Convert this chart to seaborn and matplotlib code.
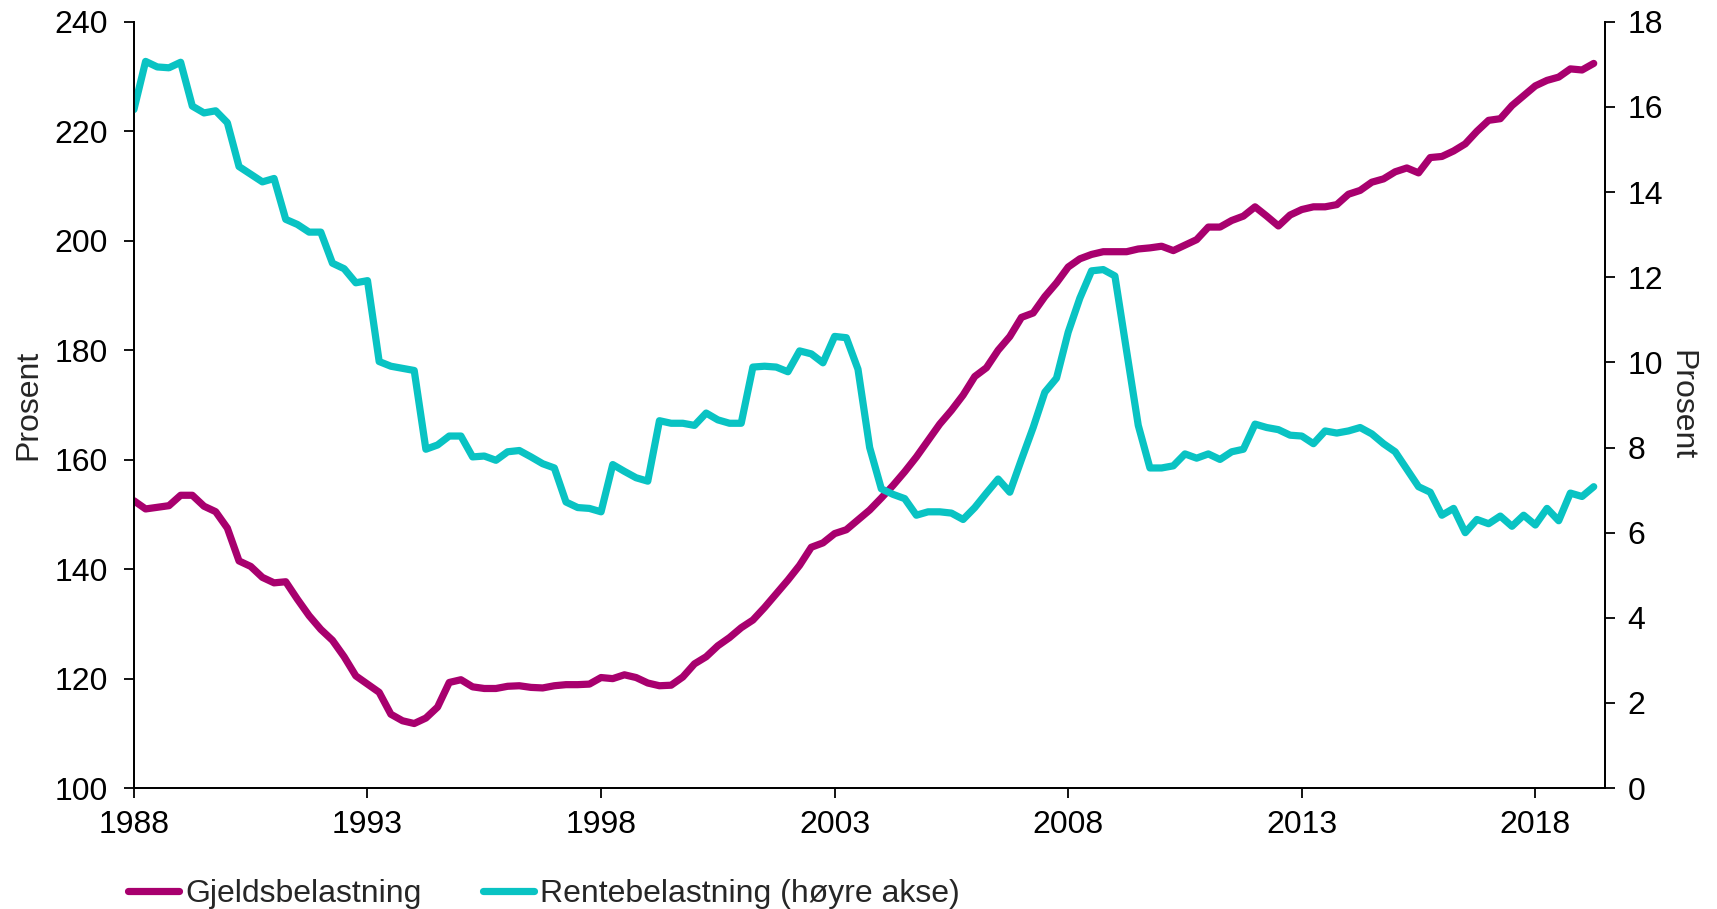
import numpy as np
import pandas as pd
import matplotlib
matplotlib.use("Agg")
import matplotlib.pyplot as plt
import seaborn as sns

# =========================================================
# Data (kvartalsvis, 1988K1 - 2019K2)
# =========================================================

gjeld = [
    152.5, 151.0, 151.3, 151.6, 153.5, 153.5, 151.5, 150.5,
    147.5, 141.5, 140.5, 138.5, 137.5, 137.7, 134.5, 131.5,
    129.0, 127.0, 124.0, 120.5, 119.0, 117.5, 113.5, 112.3,
    111.8, 112.8, 114.8, 119.3, 119.8, 118.5, 118.2, 118.2,
    118.6, 118.7, 118.4, 118.3, 118.7, 118.9, 118.9, 119.0,
    120.2, 120.0, 120.7, 120.2, 119.2, 118.7, 118.8, 120.3,
    122.7, 124.0, 126.0, 127.5, 129.3, 130.7, 133.0, 135.5,
    138.0, 140.7, 144.0, 144.8, 146.5, 147.2, 149.0, 150.8,
    153.0, 155.3, 157.8, 160.5, 163.5, 166.5, 169.0, 171.8,
    175.2, 176.8, 180.0, 182.5, 186.0, 186.8, 189.8, 192.3,
    195.2, 196.7, 197.5, 198.0, 198.0, 198.0, 198.5, 198.7,
    199.0, 198.2, 199.2, 200.2, 202.5, 202.5, 203.7, 204.5,
    206.2, 204.5, 202.7, 204.7, 205.7, 206.2, 206.2, 206.6,
    208.5, 209.2, 210.7, 211.3, 212.6, 213.3, 212.4, 215.2,
    215.4, 216.4, 217.7, 220.0, 222.0, 222.3, 224.7, 226.5,
    228.3, 229.3, 229.9, 231.4, 231.2, 232.4,
]

rente = [
    15.94, 17.07, 16.94, 16.92, 17.05, 16.02, 15.86, 15.91,
    15.63, 14.60, 14.42, 14.24, 14.32, 13.36, 13.24, 13.06,
    13.06, 12.33, 12.20, 11.87, 11.92, 10.02, 9.91, 9.86,
    9.81, 7.96, 8.06, 8.27, 8.27, 7.78, 7.80, 7.70,
    7.90, 7.93, 7.78, 7.62, 7.52, 6.72, 6.59, 6.57,
    6.49, 7.60, 7.44, 7.29, 7.21, 8.63, 8.57, 8.57,
    8.52, 8.81, 8.65, 8.57, 8.57, 9.89, 9.91, 9.89,
    9.78, 10.27, 10.20, 9.99, 10.61, 10.58, 9.84, 8.00,
    7.03, 6.90, 6.80, 6.41, 6.49, 6.49, 6.46, 6.31,
    6.59, 6.93, 7.26, 6.95, 7.72, 8.47, 9.30, 9.63,
    10.71, 11.51, 12.15, 12.18, 12.03, 10.27, 8.52, 7.52,
    7.52, 7.57, 7.85, 7.75, 7.85, 7.72, 7.90, 7.96,
    8.55, 8.47, 8.42, 8.29, 8.27, 8.09, 8.39, 8.34,
    8.39, 8.47, 8.32, 8.09, 7.90, 7.49, 7.08, 6.95,
    6.41, 6.57, 6.00, 6.31, 6.21, 6.39, 6.15, 6.41,
    6.18, 6.57, 6.28, 6.93, 6.85, 7.08,
]

aar = 1988 + 0.25 * np.arange(len(gjeld))

x_ticks = [1988, 1993, 1998, 2003, 2008, 2013, 2018]
y_ticks_v = [100, 120, 140, 160, 180, 200, 220, 240]
y_ticks_h = [0, 2, 4, 6, 8, 10, 12, 14, 16, 18]

df = pd.DataFrame({"aar": aar, "gjeld": gjeld, "rente": rente})

# =========================================================
# Graf
# =========================================================

sns.set_theme(style="ticks")
plt.rcParams["font.family"] = ["Liberation Sans", "DejaVu Sans"]

farge_gjeld = "#A8006E"
farge_rente = "#09C3C3"
fs = 23

fig = plt.figure(figsize=(17.17, 9.09), dpi=100)
ax = fig.add_axes([0.078, 0.133, 0.857, 0.843])
ax2 = ax.twinx()

sns.lineplot(data=df, x="aar", y="gjeld", ax=ax, color=farge_gjeld,
             linewidth=5.2, label="Gjeldsbelastning", legend=False)
sns.lineplot(data=df, x="aar", y="rente", ax=ax2, color=farge_rente,
             linewidth=5.2, label="Rentebelastning (høyre akse)", legend=False)

ax.set_xlim(1988, 2019.5)
ax.set_ylim(100, 240)
ax2.set_ylim(0, 18)
ax.set_xticks(x_ticks)
ax.set_xticklabels([str(t) for t in x_ticks])
ax.set_yticks(y_ticks_v)
ax2.set_yticks(y_ticks_h)

for a in (ax, ax2):
    a.spines["top"].set_visible(False)
    for s in a.spines.values():
        s.set_linewidth(1.3)
        s.set_color("black")
    a.tick_params(axis="both", labelsize=fs, length=7, width=1.3,
                  direction="out", colors="black")
ax.tick_params(axis="y", pad=12)
ax.tick_params(axis="x", pad=9)
ax2.tick_params(axis="y", pad=9)

ax.set_xlabel("")
ax.set_ylabel("Prosent", fontsize=fs, labelpad=8)
ax2.set_ylabel("Prosent", fontsize=fs, rotation=270, labelpad=24)

h1, l1 = ax.get_legend_handles_labels()
h2, l2 = ax2.get_legend_handles_labels()
fig.legend(h1 + h2, l1 + l2, loc="lower left", bbox_to_anchor=(0.058, -0.032),
           ncol=2, frameon=False, fontsize=fs, handlelength=1.6,
           handletextpad=0.2, columnspacing=1.9)

fig.savefig("out.png", dpi=100)
